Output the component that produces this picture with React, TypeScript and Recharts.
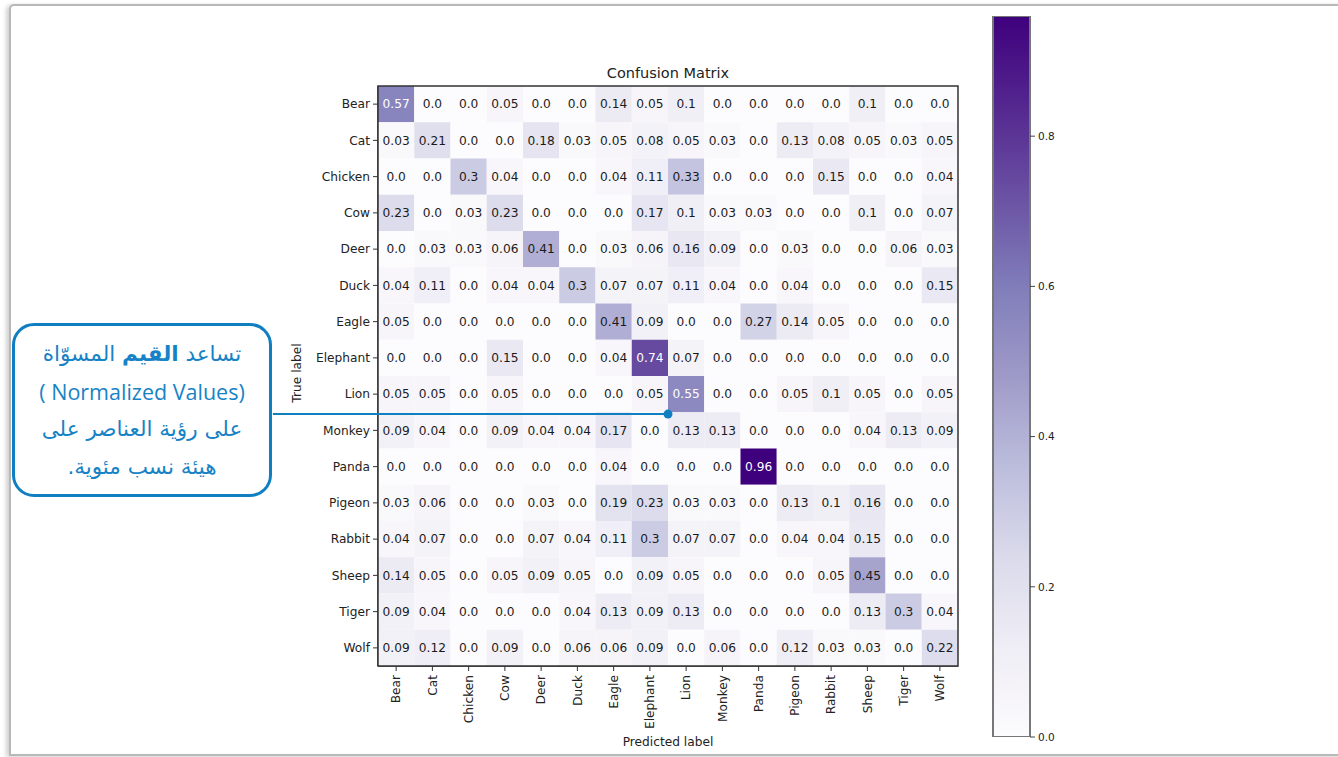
import React from 'react';
import {
  ScatterChart, Scatter, XAxis, YAxis, ReferenceArea, ReferenceLine, ReferenceDot,
  BarChart, Bar,
} from 'recharts';

const classLabels = ['Bear', 'Cat', 'Chicken', 'Cow', 'Deer', 'Duck', 'Eagle', 'Elephant', 'Lion', 'Monkey', 'Panda', 'Pigeon', 'Rabbit', 'Sheep', 'Tiger', 'Wolf'];

const bearRow = [0.57, 0, 0, 0.05, 0, 0, 0.14, 0.05, 0.1, 0, 0, 0, 0, 0.1, 0, 0];
const catRow = [0.03, 0.21, 0, 0, 0.18, 0.03, 0.05, 0.08, 0.05, 0.03, 0, 0.13, 0.08, 0.05, 0.03, 0.05];
const chickenRow = [0, 0, 0.3, 0.04, 0, 0, 0.04, 0.11, 0.33, 0, 0, 0, 0.15, 0, 0, 0.04];
const cowRow = [0.23, 0, 0.03, 0.23, 0, 0, 0, 0.17, 0.1, 0.03, 0.03, 0, 0, 0.1, 0, 0.07];
const deerRow = [0, 0.03, 0.03, 0.06, 0.41, 0, 0.03, 0.06, 0.16, 0.09, 0, 0.03, 0, 0, 0.06, 0.03];
const duckRow = [0.04, 0.11, 0, 0.04, 0.04, 0.3, 0.07, 0.07, 0.11, 0.04, 0, 0.04, 0, 0, 0, 0.15];
const eagleRow = [0.05, 0, 0, 0, 0, 0, 0.41, 0.09, 0, 0, 0.27, 0.14, 0.05, 0, 0, 0];
const elephantRow = [0, 0, 0, 0.15, 0, 0, 0.04, 0.74, 0.07, 0, 0, 0, 0, 0, 0, 0];
const lionRow = [0.05, 0.05, 0, 0.05, 0, 0, 0, 0.05, 0.55, 0, 0, 0.05, 0.1, 0.05, 0, 0.05];
const monkeyRow = [0.09, 0.04, 0, 0.09, 0.04, 0.04, 0.17, 0, 0.13, 0.13, 0, 0, 0, 0.04, 0.13, 0.09];
const pandaRow = [0, 0, 0, 0, 0, 0, 0.04, 0, 0, 0, 0.96, 0, 0, 0, 0, 0];
const pigeonRow = [0.03, 0.06, 0, 0, 0.03, 0, 0.19, 0.23, 0.03, 0.03, 0, 0.13, 0.1, 0.16, 0, 0];
const rabbitRow = [0.04, 0.07, 0, 0, 0.07, 0.04, 0.11, 0.3, 0.07, 0.07, 0, 0.04, 0.04, 0.15, 0, 0];
const sheepRow = [0.14, 0.05, 0, 0.05, 0.09, 0.05, 0, 0.09, 0.05, 0, 0, 0, 0.05, 0.45, 0, 0];
const tigerRow = [0.09, 0.04, 0, 0, 0, 0.04, 0.13, 0.09, 0.13, 0, 0, 0, 0, 0.13, 0.3, 0.04];
const wolfRow = [0.09, 0.12, 0, 0.09, 0, 0.06, 0.06, 0.09, 0, 0.06, 0, 0.12, 0.03, 0.03, 0, 0.22];

const matrix = [bearRow, catRow, chickenRow, cowRow, deerRow, duckRow, eagleRow, elephantRow, lionRow, monkeyRow, pandaRow, pigeonRow, rabbitRow, sheepRow, tigerRow, wolfRow];

const colorbarTicks = [0, 0.2, 0.4, 0.6, 0.8];
const vMax = 0.96;

const purples = ['#fcfbfd', '#efedf5', '#dadaeb', '#bcbddc', '#9e9ac8', '#807dba', '#6a51a3', '#54278f', '#3f007d'];

function hexToRgb(h: string) {
  return [parseInt(h.slice(1, 3), 16), parseInt(h.slice(3, 5), 16), parseInt(h.slice(5, 7), 16)];
}
function colorFor(v: number) {
  const t = Math.max(0, Math.min(1, v / vMax)) * (purples.length - 1);
  const i = Math.min(purples.length - 2, Math.floor(t));
  const f = t - i;
  const a = hexToRgb(purples[i]);
  const b = hexToRgb(purples[i + 1]);
  const c = a.map((x, k) => Math.round(x + (b[k] - x) * f));
  return `rgb(${c[0]},${c[1]},${c[2]})`;
}
const fmt = (v: number) => (Number.isInteger(v) ? v.toFixed(1) : String(v));

const cells = matrix.flatMap((row, r) => row.map((v, c) => ({ x: c, y: r, v })));
const tickIdx = classLabels.map((_, i) => i);
const colorbarData = [{ name: 'scale', v: vMax }];

const N = classLabels.length;
const PLOT = 580;
const CELL = PLOT / N;
const FONT = '"DejaVu Sans", sans-serif';
const BLUE = '#0f7fc2';

const CellShape = (props: any) => {
  const { cx, cy, payload } = props;
  if (cx == null || cy == null) return null;
  const v = payload.v;
  return (
    <g>
      <rect x={cx - CELL / 2} y={cy - CELL / 2} width={CELL} height={CELL} fill={colorFor(v)} />
      <text x={cx} y={cy} dy="0.35em" textAnchor="middle" fontFamily={FONT} fontSize={12.2}
        fill={v > vMax / 2 ? '#ffffff' : '#1a1a1a'}>{fmt(v)}</text>
    </g>
  );
};

const XTick = (props: any) => {
  const { x, y, payload } = props;
  return (
    <g transform={`translate(${x},${y})`}>
      <text transform="rotate(-90)" x={-2} y={0} dy="0.35em" textAnchor="end" fontFamily={FONT} fontSize={12.2} fill="#222">
        {classLabels[payload.value]}
      </text>
    </g>
  );
};

export default function App() {
  return (
    <div style={{ position: 'absolute', left: 0, top: 0, width: 1338, height: 757, background: '#fff', overflow: 'hidden' }}>
      <div style={{
        position: 'absolute', left: 9, top: 4, width: 1340, height: 748,
        borderLeft: '2px solid #b8b8b8', borderTop: '2px solid #b8b8b8', borderBottom: '2px solid #b8b8b8',
        borderTopLeftRadius: 5, boxShadow: '-3px 1px 4px rgba(0,0,0,0.18)',
      }} />

      <div style={{ position: 'absolute', left: 518, top: 65, width: 300, textAlign: 'center', fontFamily: FONT, fontSize: 14.5, color: '#222' }}>
        Confusion Matrix
      </div>
      <div style={{ position: 'absolute', left: 568, top: 735, width: 200, textAlign: 'center', fontFamily: FONT, fontSize: 12.2, color: '#222' }}>
        Predicted label
      </div>
      <div style={{ position: 'absolute', left: 247, top: 366, width: 100, textAlign: 'center', fontFamily: FONT, fontSize: 12.2, color: '#222', transform: 'rotate(-90deg)' }}>
        True label
      </div>

      <div style={{ position: 'absolute', left: 260, top: 50 }}>
        <ScatterChart width={720} height={706} margin={{ top: 36, right: 22, bottom: 10, left: 0 }}>
          <XAxis type="number" dataKey="x" domain={[-0.5, N - 0.5]} ticks={tickIdx} interval={0}
            height={80} tickSize={5} tickLine={{ stroke: '#333' }} axisLine={{ stroke: '#333', strokeWidth: 1.5 }}
            tick={<XTick />} allowDataOverflow />
          <YAxis type="number" dataKey="y" domain={[-0.5, N - 0.5]} ticks={tickIdx} interval={0} reversed
            width={118} tickSize={5} tickMargin={3} tickLine={{ stroke: '#333' }} axisLine={{ stroke: '#333', strokeWidth: 1.5 }}
            tickFormatter={(i: number) => classLabels[i]}
            tick={{ fontFamily: FONT, fontSize: 12.2, fill: '#222' }} allowDataOverflow />
          <Scatter data={cells} shape={(p: any) => <CellShape {...p} />} isAnimationActive={false} />
          <ReferenceArea x1={-0.5} x2={N - 0.5} y1={-0.5} y2={N - 0.5} fill="none" fillOpacity={0} stroke="#333" strokeWidth={1.5} ifOverflow="visible" zIndex={900} />
          <ReferenceLine segment={[{ x: -3.4, y: 8.55 }, { x: 7.5, y: 8.55 }]} stroke={BLUE} strokeWidth={2} ifOverflow="visible" zIndex={1000} />
          <ReferenceDot x={7.5} y={8.55} r={4.5} fill={BLUE} stroke="none" ifOverflow="visible" zIndex={1000} />
        </ScatterChart>
      </div>

      <div style={{ position: 'absolute', left: 990, top: 13 }}>
        <BarChart width={90} height={740} data={colorbarData} margin={{ top: 3, right: 0, bottom: 16, left: 3 }} barCategoryGap={0} barGap={0}>
          <defs>
            <linearGradient id="cbGrad" x1="0" y1="1" x2="0" y2="0">
              {purples.map((c, i) => <stop key={i} offset={i / (purples.length - 1)} stopColor={c} />)}
            </linearGradient>
          </defs>
          <XAxis dataKey="name" hide />
          <YAxis orientation="right" domain={[0, vMax]} ticks={colorbarTicks} interval={0} width={50} tickSize={5}
            axisLine={false} tickLine={{ stroke: '#444' }} tickMargin={3} allowDataOverflow
            tickFormatter={(v: number) => v.toFixed(1)}
            tick={{ fontFamily: FONT, fontSize: 10.5, fill: '#222' }} />
          <Bar dataKey="v" fill="url(#cbGrad)" stroke="#777" strokeWidth={2} isAnimationActive={false} />
        </BarChart>
      </div>

      <div style={{
        position: 'absolute', left: 12, top: 323, width: 254, height: 168,
        border: `3px solid ${BLUE}`, borderRadius: 22, background: '#fff',
        display: 'flex', flexDirection: 'column', justifyContent: 'center', alignItems: 'center',
        color: '#1783c6', fontSize: 21.5, lineHeight: '37.5px', textAlign: 'center',
      }}>
        <div dir="rtl" style={{ fontFamily: '"DejaVu Sans", sans-serif' }}>تساعد <b>القيم</b> المسوّاة</div>
        <div style={{ fontFamily: '"Open Sans", "Noto Sans", sans-serif' }}>( Normalized Values)</div>
        <div dir="rtl" style={{ fontFamily: '"DejaVu Sans", sans-serif' }}>على رؤية العناصر على</div>
        <div dir="rtl" style={{ fontFamily: '"DejaVu Sans", sans-serif' }}>هيئة نسب مئوية.</div>
      </div>
    </div>
  );
}
